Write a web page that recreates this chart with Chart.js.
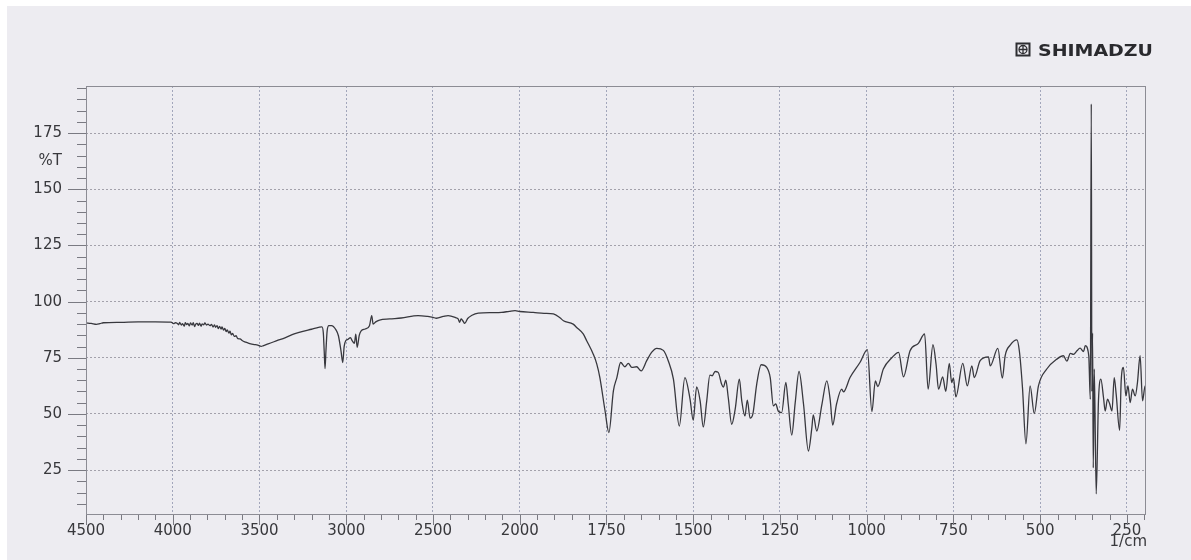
<!DOCTYPE html>
<html><head><meta charset="utf-8">
<script src="https://cdn.jsdelivr.net/npm/chart.js@4.4.1/dist/chart.umd.min.js"></script>
<style>html,body{margin:0;padding:0;background:#fff;overflow:hidden}
#wrap{position:absolute;left:0;top:0;width:1191px;height:560px}
canvas{display:block}
</style></head><body><div id="wrap"><canvas id="c" width="1191" height="560"></canvas></div>
<script>
// ---- data (wavenumber in 1/cm, transmittance in %T) ----
const wavenumbers = [
4500,4470,4440,4420,4400,4300,4200,4100,4010,3995,3985,3975,3966,3960,3951,3944,3933,3928,3919,3913,
3904,3898,3888,3882,3874,3869,3860,3852,3846,3836,3831,3821,3815,3805,3797,3785,3776,3768,3759,3753,
3744,3738,3730,3721,3716,3707,3700,3692,3686,3676,3670,3662,3655,3645,3635,3625,3612,3600,3585,3570,
3550,3530,3510,3490,3480,3450,3400,3350,3300,3250,3200,3160,3140,3132,3127,3122,3117,3110,3100,3085,
3060,3045,3030,3020,3012,3003,2990,2976,2965,2953,2945,2937,2925,2914,2891,2866,2853,2845,2830,2808,
2750,2683,2586,2530,2500,2480,2440,2413,2370,2355,2346,2338,2328,2317,2300,2278,2239,2160,2104,2060,
2027,2000,1961,1930,1903,1884,1874,1846,1836,1817,1807,1788,1778,1769,1754,1743,1730,1720,1709,1697,
1687,1677,1663,1650,1634,1620,1605,1586,1572,1557,1540,1524,1509,1500,1490,1480,1471,1461,1452,1445,
1437,1428,1418,1413,1406,1399,1389,1379,1367,1360,1351,1344,1336,1328,1317,1304,1288,1278,1269,1262,
1255,1245,1233,1226,1216,1206,1195,1182,1168,1158,1154,1144,1129,1115,1105,1098,1087,1072,1067,1048,
1019,998,985,975,968,952,927,908,894,875,851,833,823,809,800,793,781,772,762,755,
750,743,723,710,697,690,673,649,644,622,609,601,587,567,560,551,541,529,517,505,
481,452,433,423,413,404,394,385,375,370,360,355.5,352.7,351,349,347,344,338.5,332,325,
317.5,312.6,306,300,293,286.6,281,271,266.5,260,253,247,240.6,234,226,219.6,212,205,197.5,195
];
const transmittance = [
90.5,90.3,89.9,90.2,90.6,90.8,91.0,91.0,90.9,90.2,90.6,90.4,89.7,90.8,89.6,90.2,89.1,90.6,89.8,90.3,
89.2,90.5,89.6,90.6,88.9,89.8,90.3,89.4,90.4,89.1,90.1,89.7,90.5,89.6,90.0,89.3,89.9,88.7,89.6,88.6,
89.3,88.0,89.0,87.8,88.7,87.3,88.1,86.6,87.4,86.0,86.8,85.2,85.9,84.5,84.8,83.5,83.4,82.7,82.1,81.7,
81.2,80.9,80.6,80.1,80.3,81.2,82.6,84.0,85.6,86.8,87.7,88.5,88.8,86,78,70.2,78,87,89.3,89.3,
87.5,84.8,78,72.9,80,82.6,83.2,84,82.5,81.4,85.5,79.6,85,87,87.8,89.3,93.8,90,91,91.8,
92.3,92.7,93.8,93.4,93,92.6,93.4,93.8,92.9,92.3,90.8,92.3,91.5,90.3,92.5,93.8,94.9,95.1,95.2,95.7,
96,95.6,95.2,94.8,94.5,92.8,91.5,90,88.5,85.6,82.6,76.6,72.3,66.2,51.3,41.7,60.3,66.2,72.9,71,
72.5,70.7,71,69.2,73.7,77.4,79.2,78.3,73.7,65.5,44.6,66.2,56.5,47.2,62,55.8,44.2,55.8,67.3,67,
68.9,68.5,63.2,61.9,65,57.3,45.4,52.1,65.5,55.8,49.1,56.1,48.1,50,63.2,71.9,70.7,66.2,53.6,54.5,
51.3,50.6,64,54.3,40.6,55,68.9,54.3,33.5,43.9,49.6,42.4,54.3,64.7,56,45,54.3,61,59.8,66.2,
73,78.6,51,64.7,62.2,70,75.1,77.4,66.5,78.1,81.4,85.6,61,80.8,72,61,66.5,60,72.5,64,
66,57.6,72.5,62.5,71.4,66.2,73.7,75.4,71.4,79.2,65.9,75.9,80.5,83,78,61.7,36.7,62.5,50.1,62.5,
70,74.4,75.9,73.5,77,76.5,78.1,79.3,77.8,80.4,75.9,56.5,188,60,86,26,70,14.4,55.8,65.5,
57.3,51.3,56.6,54.6,51.3,66.2,58.8,42.7,64.7,70.7,58,62.5,55,61,58,64,75.9,55.8,62.5,60
];
const xTickLabels = [4500,4000,3500,3000,2500,2000,1750,1500,1250,1000,750,500,250];
const yTickLabels = [25,50,75,100,125,150,175];
const X_START = 4500, X_END = 195, Y_MIN = 5, Y_MAX = 196;

// Shimadzu abscissa: 500 per division above 2000 1/cm, 250 per division below.
function u(wn){ return wn >= 2000 ? (4500 - wn) / 500 : 5 + (2000 - wn) / 250; }

const points = wavenumbers.map((w, i) => ({x: u(w), y: transmittance[i]}));
const FONT = '"DejaVu Sans", "Liberation Sans", sans-serif';
const TXT = '#38383c';

const decor = {
  id: 'decor',
  beforeDraw(chart){
    const c = chart.ctx;
    c.save();
    c.fillStyle = '#ffffff'; c.fillRect(0,0,chart.width,chart.height);
    c.fillStyle = '#edecf1'; c.fillRect(7,6,chart.width-7,chart.height-6);
    c.restore();
  },
  afterDraw(chart){
    const c = chart.ctx, a = chart.chartArea;
    const xs = chart.scales.x, ys = chart.scales.y;
    c.save();
    // frame
    c.strokeStyle = '#8c8c94'; c.lineWidth = 1;
    c.strokeRect(Math.round(a.left)+0.5, Math.round(a.top)+0.5, Math.round(a.right-a.left)-1, Math.round(a.bottom-a.top)-1);
    // y tick marks every 5
    c.strokeStyle = '#7a7a82';
    c.beginPath();
    for (let v = 10; v <= 195; v += 5){
      const py = Math.round(ys.getPixelForValue(v)) + 0.5;
      const len = (v % 25 === 0) ? 18 : 9;
      c.moveTo(a.left - len, py); c.lineTo(a.left, py);
    }
    // x tick marks: 100 above 2000, 50 below
    const xt = [];
    for (let w = 4500; w > 2000; w -= 100) xt.push(w);
    for (let w = 2000; w >= 200; w -= 50) xt.push(w);
    xt.forEach(w => {
      const px = Math.round(xs.getPixelForValue(u(w))) + 0.5;
      const len = xTickLabels.includes(w) ? 10 : 5;
      c.moveTo(px, a.bottom); c.lineTo(px, a.bottom + len);
    });
    c.stroke();
    // axis captions
    c.fillStyle = TXT;
    c.font = '15px ' + FONT;
    c.textAlign = 'right'; c.textBaseline = 'middle';
    c.fillText('%T', 62, ys.getPixelForValue(162.5));
    c.fillText('1/cm', 1147, 542);
    // logo
    c.strokeStyle = '#2e2e32'; c.lineWidth = 2;
    c.strokeRect(1016.5, 43.5, 13, 12);
    c.lineWidth = 1.3;
    c.beginPath(); c.arc(1023, 49.5, 4, 0, Math.PI*2); c.stroke();
    c.beginPath(); c.moveTo(1019, 49.5); c.lineTo(1027, 49.5); c.moveTo(1023, 45.5); c.lineTo(1023, 53.5); c.stroke();
    c.font = 'bold 15px ' + FONT;
    c.textAlign = 'left'; c.textBaseline = 'alphabetic';
    const txt = 'SHIMADZU';
    const wdt = c.measureText(txt).width;
    c.translate(1038, 55.5);
    c.scale(115 / wdt, 1);
    c.fillStyle = '#2a2a2e';
    c.fillText(txt, 0, 0);
    c.restore();
  }
};

new Chart(document.getElementById('c'), {
  type: 'line',
  data: { datasets: [{
    data: points,
    borderColor: '#38383e',
    borderWidth: 1.3,
    pointRadius: 0,
    fill: false,
    cubicInterpolationMode: 'monotone'
  }]},
  options: {
    responsive: false,
    devicePixelRatio: 1,
    animation: false,
    layout: { padding: { top: 86, right: 45, left: 0, bottom: 0 } },
    plugins: { legend: {display:false}, tooltip: {enabled:false} },
    scales: {
      x: {
        type: 'linear', min: 0, max: u(X_END),
        afterBuildTicks(s){ s.ticks = xTickLabels.map(w => ({value: u(w)})); },
        afterFit(s){ s.height = 45; },
        ticks: {
          autoSkip: false, maxRotation: 0, padding: 7,
          font: {family: FONT, size: 15}, color: TXT,
          callback(v){ const w = xTickLabels.find(t => Math.abs(u(t) - v) < 1e-6); return w === undefined ? '' : String(w); }
        },
        grid: { color: '#a2a6bb', lineWidth: 1, drawTicks: false },
        border: { display: false, dash: [2,2] }
      },
      y: {
        type: 'linear', min: Y_MIN, max: Y_MAX,
        afterBuildTicks(s){ s.ticks = yTickLabels.map(v => ({value: v})); },
        afterFit(s){ s.width = 86; },
        ticks: { padding: 24, font: {family: FONT, size: 15}, color: TXT },
        grid: { color: '#a3a1ab', lineWidth: 1, drawTicks: false },
        border: { display: false, dash: [2,2] }
      }
    }
  },
  plugins: [decor]
});
</script></body></html>
